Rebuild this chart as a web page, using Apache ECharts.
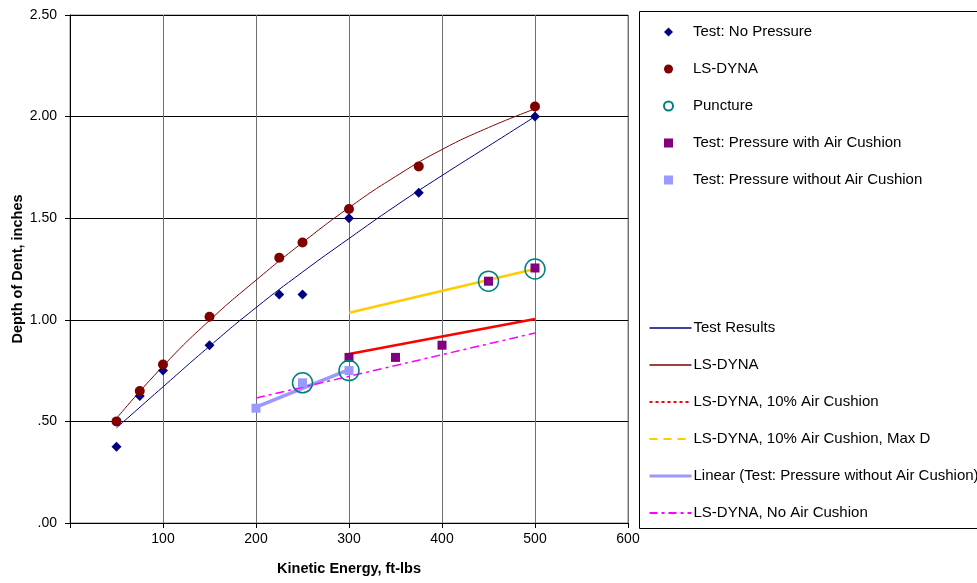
<!DOCTYPE html>
<html>
<head>
<meta charset="utf-8">
<script src="https://cdn.jsdelivr.net/npm/echarts@6/dist/echarts.min.js"></script>
<style>
  html, body { margin: 0; padding: 0; background: #fff; }
  #chart { width: 977px; height: 583px; }
</style>
</head>
<body>
<div id="chart"></div>
<script>
// measured points
const energyNoPressure = [50, 75, 100, 150, 225, 250, 300, 375, 500]
const depthNoPressure = [0.375, 0.625, 0.75, 0.875, 1.125, 1.125, 1.50, 1.625, 2.00]

const energyDyna = [50, 75, 100, 150, 225, 250, 300, 375, 500]
const depthDyna = [0.50, 0.65, 0.78, 1.015, 1.305, 1.38, 1.545, 1.755, 2.05]

const energyPuncture = [250, 300, 450, 500]
const depthPuncture = [0.69, 0.75, 1.19, 1.25]

const energyCushion = [300, 350, 400, 450, 500]
const depthCushion = [0.815, 0.815, 0.875, 1.19, 1.255]

const energyNoCushion = [200, 250, 300]
const depthNoCushion = [0.565, 0.69, 0.75]

// trend lines
const energyFit = [50, 100, 150, 200, 250, 300, 350, 400, 450, 500]
const depthTestFit = [0.468, 0.670, 0.870, 1.060, 1.235, 1.400, 1.560, 1.710, 1.855, 2.000]
const depthDynaFit = [0.515, 0.772, 0.997, 1.195, 1.380, 1.552, 1.705, 1.838, 1.946, 2.038]

const energyTenPct = [300, 500]
const depthTenPct = [0.832, 1.004]
const depthTenPctMax = [1.035, 1.25]

const energyLinear = [200, 300]
const depthLinear = [0.57, 0.755]

const energyNoAir = [200, 500]
const depthNoAir = [0.615, 0.935]

const xTicks = [0, 100, 200, 300, 400, 500, 600]
const yTicks = [0, 0.5, 1.0, 1.5, 2.0, 2.5]

const pairs = (xs, ys) => xs.map((x, i) => [x, ys[i]])

const font = 'Liberation Sans, Arial, sans-serif'

const chart = echarts.init(document.getElementById('chart'))

const lineSeries = (name, xs, ys, color, width, type, smooth) => ({
  name: name,
  type: 'line',
  data: pairs(xs, ys),
  showSymbol: false,
  symbol: 'none',
  smooth: smooth || false,
  lineStyle: { color: color, width: width, type: type || 'solid' },
  itemStyle: { color: color },
  silent: true,
  z: 2
})

const scatterSeries = (name, xs, ys, symbol, size, style) => ({
  name: name,
  type: 'scatter',
  data: pairs(xs, ys),
  symbol: symbol,
  symbolSize: size,
  itemStyle: Object.assign({ opacity: 1 }, style),
  z: 3
})

// line legend entries: hide the symbol, keep the line
const lineLegend = (name, lineStyle) => ({
  name: name,
  itemStyle: { opacity: 0 },
  lineStyle: Object.assign({ opacity: 1 }, lineStyle)
})

const legendText = { fontFamily: font, fontSize: 15, color: '#000', lineHeight: 16 }

const option = {
  animation: false,
  textStyle: { fontFamily: font },
  grid: {
    left: 70, right: 349, top: 15, bottom: 60,
    outerBoundsMode: 'none',
    show: true, borderColor: '#808080', borderWidth: 1
  },
  xAxis: {
    type: 'value',
    min: xTicks[0], max: xTicks[xTicks.length - 1], interval: 100,
    name: 'Kinetic Energy, ft-lbs',
    nameLocation: 'middle', nameGap: 38, nameMoveOverlap: false,
    nameTextStyle: { fontFamily: font, fontSize: 14.5, fontWeight: 'bold', color: '#000' },
    axisLine: { lineStyle: { color: '#000', width: 1 } },
    axisTick: { show: true, length: 5, lineStyle: { color: '#000' } },
    axisLabel: {
      fontFamily: font, fontSize: 14, color: '#000', margin: 9,
      formatter: v => (v === 0 ? '' : String(v))
    },
    splitLine: { show: true, lineStyle: { color: '#707070', width: 1 } }
  },
  yAxis: {
    type: 'value',
    min: yTicks[0], max: yTicks[yTicks.length - 1], interval: 0.5,
    name: 'Depth of Dent, inches',
    nameLocation: 'middle', nameGap: 45, nameRotate: 90, nameMoveOverlap: false,
    nameTextStyle: { fontFamily: font, fontSize: 14.5, fontWeight: 'bold', color: '#000' },
    axisLine: { show: true, lineStyle: { color: '#000', width: 1 } },
    axisTick: { show: true, length: 5, lineStyle: { color: '#000' } },
    axisLabel: {
      fontFamily: font, fontSize: 14, color: '#000', margin: 13,
      formatter: v => v.toFixed(2).replace(/^0/, '')
    },
    splitLine: { show: true, lineStyle: { color: '#000', width: 1 } }
  },
  legend: [
    {
      orient: 'vertical', left: 658, top: 19,
      itemWidth: 9, itemHeight: 9, itemGap: 21,
      textStyle: Object.assign({ padding: [0, 0, 0, 15] }, legendText),
      data: ['Test: No Pressure', 'LS-DYNA', 'Puncture', 'Test: Pressure with Air Cushion', 'Test: Pressure without Air Cushion']
    },
    {
      orient: 'vertical', left: 643, top: 315,
      itemWidth: 42, itemHeight: 16, itemGap: 21,
      textStyle: Object.assign({ padding: [0, 0, 0, -3] }, legendText),
      data: [
        lineLegend('Test Results', { width: 1.5 }),
        lineLegend('LS-DYNA ', { width: 1.5 }),
        lineLegend('LS-DYNA, 10% Air Cushion', { type: [3, 3], width: 2 }),
        lineLegend('LS-DYNA, 10% Air Cushion, Max D', { type: [8, 6], width: 2 }),
        lineLegend('Linear (Test: Pressure without Air Cushion)', { width: 3 }),
        lineLegend('LS-DYNA, No Air Cushion', { type: [8, 4, 3, 4], width: 2 })
      ]
    }
  ],
  graphic: [
    {
      type: 'rect', left: 639, top: 11, z: -1,
      shape: { width: 400, height: 517 },
      style: { fill: '#fff', stroke: '#000', lineWidth: 1 }
    }
  ],
  series: [
    lineSeries('Test Results', energyFit, depthTestFit, '#000080', 1, 'solid', true),
    lineSeries('LS-DYNA ', energyFit, depthDynaFit, '#800000', 1, 'solid', true),
    lineSeries('LS-DYNA, 10% Air Cushion', energyTenPct, depthTenPct, '#FF0000', 2.5),
    lineSeries('LS-DYNA, 10% Air Cushion, Max D', energyTenPct, depthTenPctMax, '#FFCC00', 2.5),
    lineSeries('Linear (Test: Pressure without Air Cushion)', energyLinear, depthLinear, '#9999FF', 3.5),
    lineSeries('LS-DYNA, No Air Cushion', energyNoAir, depthNoAir, '#FF00FF', 1.5, [9, 4, 3, 4]),
    scatterSeries('Test: No Pressure', energyNoPressure, depthNoPressure, 'diamond', 10, { color: '#000080' }),
    scatterSeries('LS-DYNA', energyDyna, depthDyna, 'circle', 10, { color: '#800000' }),
    scatterSeries('Test: Pressure with Air Cushion', energyCushion, depthCushion, 'rect', 9, { color: '#800080' }),
    scatterSeries('Test: Pressure without Air Cushion', energyNoCushion, depthNoCushion, 'rect', 9, { color: '#9999FF' }),
    scatterSeries('Puncture', energyPuncture, depthPuncture, 'circle', 20,
      { color: 'rgba(255,255,255,0)', borderColor: '#008080', borderWidth: 1.5 })
  ]
}

chart.setOption(option)
</script>
</body>
</html>
